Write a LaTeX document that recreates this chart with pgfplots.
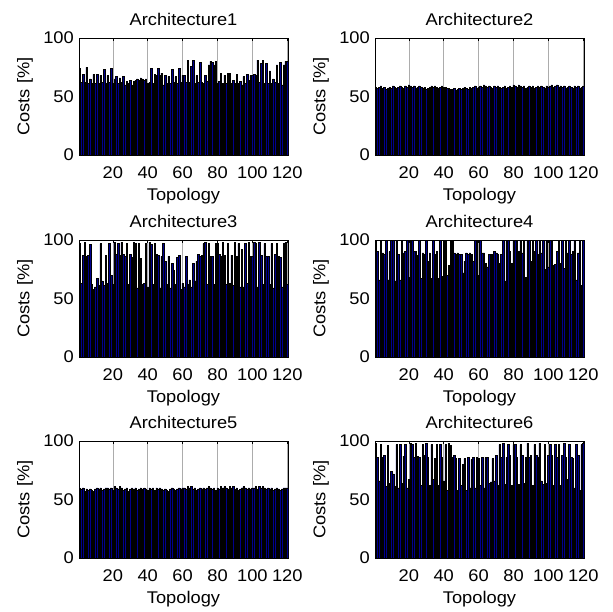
\documentclass[border=0pt]{standalone}
\usepackage{fontspec}
\setmainfont{Liberation Sans}[FakeStretch=1.08]
\usepackage{pgfplots}
\usepackage{pgfplotstable}
\pgfplotsset{compat=1.18}
\definecolor{mblue}{rgb}{0,0,0.5625}

\pgfplotstableread[row sep=\\]{y\\74\\62\\69\\62\\75\\61\\65\\61\\69\\61\\69\\61\\68\\62\\73\\61\\68\\62\\74\\61\\
65\\67\\61\\66\\62\\67\\60\\63\\61\\64\\60\\63\\64\\65\\64\\66\\65\\64\\65\\61\\
62\\74\\61\\69\\68\\74\\68\\70\\60\\68\\61\\67\\61\\73\\62\\67\\61\\74\\62\\68\\
68\\62\\81\\62\\76\\81\\61\\68\\62\\79\\62\\61\\68\\63\\77\\80\\79\\77\\80\\61\\
63\\70\\61\\68\\61\\70\\70\\61\\64\\61\\69\\61\\63\\60\\67\\61\\69\\64\\68\\68\\
69\\68\\81\\62\\78\\81\\61\\78\\61\\72\\61\\65\\62\\77\\61\\79\\60\\77\\80\\80\\}\tA

\pgfplotstableread[row sep=\\]{y\\58\\57\\58\\59\\57\\58\\56\\57\\58\\57\\59\\58\\57\\58\\59\\58\\57\\59\\58\\60\\
59\\58\\59\\57\\58\\59\\58\\57\\58\\56\\57\\58\\59\\58\\59\\58\\57\\58\\59\\58\\
58\\57\\57\\56\\56\\57\\55\\56\\57\\56\\57\\58\\57\\56\\58\\57\\58\\59\\57\\58\\
59\\58\\60\\59\\58\\59\\58\\57\\59\\58\\59\\58\\57\\58\\59\\57\\58\\59\\58\\60\\
59\\58\\60\\59\\58\\59\\57\\58\\59\\58\\59\\57\\58\\59\\58\\59\\58\\57\\59\\58\\
59\\60\\58\\59\\60\\58\\59\\58\\59\\57\\58\\59\\58\\57\\59\\58\\59\\57\\58\\59\\}\tB

\pgfplotstableread[row sep=\\]{y\\97\\63\\87\\98\\86\\87\\96\\62\\58\\60\\67\\61\\97\\65\\61\\87\\63\\97\\70\\62\\
98\\88\\97\\87\\98\\88\\86\\97\\62\\88\\85\\98\\97\\59\\97\\84\\62\\63\\97\\60\\
98\\96\\62\\97\\88\\87\\59\\86\\97\\82\\62\\86\\59\\80\\74\\62\\85\\87\\58\\63\\
60\\86\\62\\66\\60\\80\\65\\82\\88\\86\\87\\97\\98\\62\\97\\86\\86\\62\\97\\97\\
88\\86\\98\\87\\62\\97\\63\\87\\61\\98\\86\\97\\60\\92\\60\\97\\63\\98\\86\\86\\
98\\97\\60\\98\\87\\62\\97\\86\\86\\62\\97\\59\\88\\97\\86\\85\\60\\97\\98\\62\\}\tC

\pgfplotstableread[row sep=\\]{y\\100\\90\\66\\100\\89\\88\\100\\66\\90\\100\\100\\65\\100\\88\\66\\100\\89\\90\\100\\68\\
100\\100\\90\\90\\87\\100\\67\\89\\88\\100\\82\\89\\67\\100\\88\\90\\67\\100\\69\\100\\
100\\70\\78\\100\\100\\89\\88\\89\\88\\88\\72\\82\\89\\88\\89\\88\\82\\100\\100\\70\\
100\\89\\89\\80\\77\\88\\88\\88\\90\\89\\88\\80\\88\\100\\65\\100\\100\\90\\80\\100\\
100\\100\\90\\100\\89\\100\\68\\100\\100\\82\\100\\90\\100\\88\\100\\89\\100\\75\\100\\77\\
100\\100\\78\\79\\90\\100\\80\\100\\76\\100\\89\\100\\88\\90\\100\\66\\89\\100\\61\\100\\}\tD

\pgfplotstableread[row sep=\\]{y\\60\\59\\60\\57\\59\\58\\59\\58\\57\\59\\60\\59\\60\\58\\59\\60\\60\\59\\60\\58\\
61\\60\\59\\61\\60\\58\\59\\60\\57\\59\\60\\59\\60\\58\\59\\60\\59\\60\\59\\58\\
60\\59\\60\\58\\60\\59\\60\\59\\58\\59\\58\\57\\59\\60\\59\\58\\59\\60\\59\\60\\
60\\59\\61\\60\\61\\59\\60\\58\\59\\60\\59\\60\\59\\60\\61\\60\\59\\60\\58\\60\\
59\\61\\60\\61\\60\\59\\61\\60\\61\\59\\60\\58\\59\\60\\61\\60\\59\\60\\59\\60\\
60\\61\\59\\61\\60\\61\\60\\59\\60\\59\\60\\58\\59\\60\\59\\58\\59\\60\\60\\60\\}\tE

\pgfplotstableread[row sep=\\]{y\\98\\86\\66\\97\\86\\88\\61\\96\\64\\74\\72\\61\\97\\60\\97\\64\\87\\97\\60\\67\\
98\\97\\86\\98\\87\\86\\62\\97\\88\\98\\86\\62\\97\\67\\85\\97\\62\\97\\86\\66\\
97\\58\\98\\96\\86\\88\\85\\58\\85\\62\\80\\85\\58\\86\\60\\84\\86\\60\\86\\85\\
62\\86\\60\\86\\86\\64\\65\\85\\66\\88\\62\\97\\86\\98\\63\\86\\97\\88\\62\\97\\
97\\86\\63\\97\\88\\64\\86\\98\\86\\88\\62\\97\\88\\86\\98\\66\\63\\97\\64\\88\\
97\\88\\62\\97\\86\\97\\62\\88\\98\\86\\67\\97\\86\\85\\60\\97\\88\\58\\97\\98\\}\tF

\pgfplotsset{
  every axis title shift=0pt,
  arch/.style={
    scale only axis, width=209bp, height=117bp,
    anchor=north west,
    xmin=0.6, xmax=120.4, ymin=0, ymax=100,
    xtick={20,40,...,120}, ytick={0,50,100},
    tick align=inside, major tick length=3bp,
    xtick pos=both, ytick pos=both,
    xmajorgrids, grid style={draw=gray!65, line width=0.5bp},
    axis line style={line width=0.5bp},
    every tick/.style={black, line width=0.5bp},
    font=\fontsize{17}{20}\selectfont,
    /pgf/number format/assume math mode=true,
    yticklabel style={inner xsep=0pt, xshift=-5bp},
    xticklabel style={yshift=-8bp},
    title style={yshift=9bp},
    xlabel=Topology,
    xlabel style={at={(axis description cs:0.5,0)}, anchor=center, yshift=-41bp},
    ylabel={Costs [\%]},
    ylabel style={at={(axis description cs:-0.258,0.5)}, anchor=center},
  },
  barsty/.style={ybar, bar width=0.8, bar shift=0pt, fill=mblue, draw=black, line width=0.5bp},
}

\begin{document}
\begin{tikzpicture}
\path[use as bounding box] (0,0) rectangle (613bp,-612bp);
\begin{axis}[arch, at={(79bp,-38bp)}, title=Architecture1]
\addplot[barsty] table[x expr=\coordindex+1, y=y] {\tA};
\end{axis}
\begin{axis}[arch, at={(375bp,-38bp)}, title=Architecture2]
\addplot[barsty] table[x expr=\coordindex+1, y=y] {\tB};
\end{axis}
\begin{axis}[arch, at={(79bp,-240bp)}, title=Architecture3]
\addplot[barsty] table[x expr=\coordindex+1, y=y] {\tC};
\end{axis}
\begin{axis}[arch, at={(375bp,-240bp)}, title=Architecture4]
\addplot[barsty] table[x expr=\coordindex+1, y=y] {\tD};
\end{axis}
\begin{axis}[arch, at={(79bp,-441bp)}, title=Architecture5]
\addplot[barsty] table[x expr=\coordindex+1, y=y] {\tE};
\end{axis}
\begin{axis}[arch, at={(375bp,-441bp)}, title=Architecture6]
\addplot[barsty] table[x expr=\coordindex+1, y=y] {\tF};
\end{axis}
\end{tikzpicture}
\end{document}
